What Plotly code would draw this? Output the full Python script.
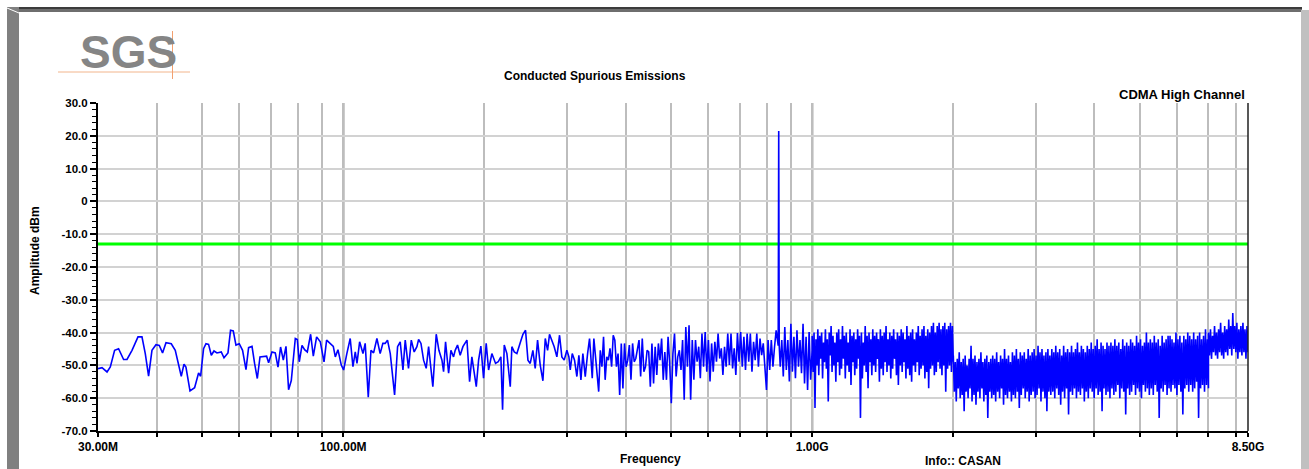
import numpy as np
import plotly.graph_objects as go

# ------------------------------------------------------------------ data
# low band, read point by point (MHz, dBm)
seg1_freq_mhz = [30.0, 30.6, 31.36, 31.87, 32.55, 33.19, 34.02, 34.59, 35.45, 36.51,
                 37.23, 37.84, 38.46, 39.10, 39.88, 40.53, 41.19, 41.89, 42.99, 43.84,
                 45.15, 45.76, 46.20, 47.13, 48.21, 49.16, 49.65, 50.38, 50.98, 51.63,
                 52.33, 53.02, 53.81, 54.95, 55.69, 56.79, 57.51, 58.29, 59.06, 60.03,
                 61.01, 62.04, 62.84, 63.91, 64.72, 65.59, 66.46, 67.76, 68.65, 69.33,
                 70.49, 71.64, 72.60, 73.53, 74.52, 75.51, 76.48, 77.50, 79.04, 79.82,
                 80.60, 81.69, 82.73, 83.84, 85.21, 86.35, 87.76, 89.37, 91.01, 92.17,
                 93.86, 95.25, 96.20, 97.46, 99.06]
seg1_amp = [-51.0, -50.7, -52.0, -50.5, -45.4, -44.9, -48.2, -48.2, -45.4, -41.3,
            -41.3, -46.4, -53.3, -45.4, -43.7, -43.9, -46.2, -43.1, -43.4, -45.4,
            -53.3, -49.6, -50.5, -57.8, -56.8, -52.3, -53.3, -44.9, -43.4, -43.6,
            -46.9, -45.6, -46.2, -45.9, -47.7, -46.2, -39.3, -39.5, -43.8, -43.4,
            -45.4, -51.3, -44.6, -44.2, -49.4, -54.0, -47.4, -47.2, -47.2, -49.2,
            -45.9, -46.2, -50.5, -44.4, -48.4, -44.2, -57.4, -54.6, -41.8, -42.1,
            -48.9, -43.9, -45.2, -45.9, -40.5, -47.2, -41.3, -42.8, -48.9, -42.3,
            -43.4, -44.2, -47.4, -45.2, -49.9]

seg2_freq_mhz = [100.2, 101.8, 103.5, 104.9, 106.1, 107.0, 108.4, 110.2, 111.4, 113.1,
                 114.6, 116.1, 118.0, 119.9, 121.5, 122.9, 124.3, 126.0, 128.7, 130.6,
                 132.3, 134.1, 135.6, 137.8, 139.7, 141.7, 143.6, 144.8, 146.5, 148.4,
                 150.3, 152.1, 155.3, 157.9, 160.0, 162.4, 163.7, 165.3, 167.8, 169.7,
                 171.9, 173.3, 175.3, 177.6, 180.0, 183.6, 186.0, 188.1, 192.2, 194.4,
                 196.6, 199.2, 201.8, 204.2, 207.5, 211.3, 214.1, 216.9, 218.7, 220.5,
                 223.4, 227.1, 228.9, 231.6, 234.6, 238.5, 241.7, 244.8, 247.7, 250.5,
                 253.8, 256.7, 259.7, 263.1, 266.6, 269.7, 272.8, 275.4, 278.6, 281.8,
                 285.5, 289.3, 292.6, 296.0, 299.9, 302.9, 304.9, 307.9, 311.4, 315.0,
                 318.1, 321.3, 324.4, 328.2, 332.0, 335.2]
seg2_amp = [-51.4, -46.4, -41.8, -50.4, -45.9, -49.4, -42.8, -46.4, -43.3, -59.7,
            -45.4, -46.2, -41.8, -46.4, -43.3, -43.3, -42.3, -46.4, -59.0, -44.3,
            -42.8, -51.4, -42.3, -50.9, -42.3, -45.9, -44.3, -42.1, -43.3, -48.4,
            -50.9, -44.3, -56.5, -40.5, -45.4, -48.4, -51.9, -42.8, -52.4, -45.4,
            -47.4, -45.4, -43.8, -46.9, -44.3, -42.3, -55.0, -47.4, -56.5, -48.4,
            -44.1, -53.9, -43.3, -51.4, -46.4, -49.4, -48.9, -47.4, -63.5, -43.8,
            -46.4, -56.5, -44.3, -45.9, -46.4, -43.1, -40.5, -39.3, -48.4, -49.4,
            -45.4, -50.9, -42.3, -49.9, -54.7, -41.8, -45.4, -40.5, -42.3, -44.3,
            -47.4, -40.8, -47.4, -48.4, -45.4, -47.4, -51.4, -46.4, -48.4, -53.4,
            -46.9, -54.4, -46.4, -53.4, -46.4, -41.8]

# dense sweeps: (start MHz, stop MHz) and amplitudes in sweep order
seg3a_span_mhz = (337.0, 838.0)
seg3a_amp = [-46.4, -53.9, -41.8, -47.4, -51.9, -58.0, -45.4, -50.4, -41.3, -54.4,
             -47.4, -48.4, -44.8, -50.4, -40.8, -42.3, -50.4, -46.4, -59.0, -43.3,
             -57.0, -43.3, -50.4, -48.4, -43.8, -54.4, -43.3, -48.9, -47.9, -45.4,
             -42.3, -53.4, -41.8, -51.9, -50.4, -45.4, -45.9, -56.5, -43.3, -55.5,
             -44.3, -52.9, -43.3, -48.4, -41.8, -54.4, -45.9, -54.4, -41.3, -49.4,
             -61.5, -46.4, -40.3, -53.4, -47.4, -45.4, -51.4, -42.3, -60.5, -38.3,
             -50.4, -37.8, -60.5, -42.3, -54.4, -42.3, -48.9, -44.3, -53.9, -40.3,
             -50.4, -39.8, -51.9, -42.3, -54.9, -43.3, -51.9, -42.8, -48.9, -40.3,
             -47.9, -44.8, -52.9, -44.3, -50.4, -40.3, -49.9, -40.3, -50.9, -44.8,
             -52.9, -40.1, -48.9, -39.8, -50.4, -41.3, -51.4, -40.3, -48.9, -40.3,
             -51.9, -42.8, -48.4, -40.3, -50.4, -41.8, -46.9, -43.3, -50.4, -57.5,
             -42.3, -51.4, -42.3, -50.4, -44.3, -39.3]

carrier_freq_mhz = [846.5, 848.6, 850.7]
carrier_amp = [-44.0, 21.5, -44.0]

seg3b_span_mhz = (855.0, 1000.0)
seg3b_amp = [-50.4, -42.3, -53.4, -38.3, -51.4, -42.3, -54.9, -37.3, -51.9, -41.3,
             -53.9, -39.3, -50.4, -42.3, -52.4, -37.3, -55.5, -41.3, -57.5, -39.8,
             -54.4, -45.4]

seg4_span_mhz = (1000.0, 2000.0)
seg4_amp = [-41, -52, -40, -63, -42, -50, -39, -53, -41, -48,
            -40, -54, -43, -49, -39, -51, -42, -61, -40, -47,
            -38, -52, -41, -50, -43, -55, -40, -49, -39, -53,
            -42, -51, -38, -48, -41, -54, -40, -50, -43, -52,
            -39, -56, -41, -49, -40, -53, -42, -51, -39, -48,
            -41, -66, -40, -54, -43, -50, -38, -52, -41, -57,
            -40, -49, -42, -53, -39, -50, -41, -52, -40, -48,
            -42, -55, -39, -51, -41, -53, -40, -49, -38, -52,
            -42, -50, -40, -54, -41, -51, -39, -48, -42, -53,
            -40, -56, -41, -50, -39, -52, -40, -49, -42, -54,
            -38, -51, -41, -53, -40, -55, -39, -50, -42, -52,
            -40, -49, -38, -53, -41, -51, -39, -50, -38, -54,
            -41, -52, -39, -57, -40, -51, -38, -50, -37, -53,
            -40, -52, -38, -49, -37, -51, -39, -53, -38, -50,
            -37, -58, -39, -51, -38, -50, -37, -52, -38, -49]

seg5_span_mhz = (2000.0, 7000.0)
seg5_amp = [-47, -58, -49, -61, -48, -57, -46, -60, -49, -59, -48, -64, -47, -58, -50, -60, -48, -57, -44, -61,
            -48, -59, -47, -62, -49, -58, -48, -60, -46, -57, -49, -61, -48, -59, -47, -66, -49, -58, -48, -60,
            -47, -59, -48, -61, -46, -58, -49, -60, -47, -57, -48, -62, -45, -59, -48, -60, -47, -58, -49, -61,
            -46, -59, -47, -60, -45, -58, -48, -63, -46, -59, -47, -57, -46, -60, -48, -58, -45, -61, -47, -59,
            -46, -58, -45, -60, -47, -59, -44, -57, -46, -61, -45, -58, -47, -60, -46, -64, -45, -58, -47, -59,
            -45, -58, -46, -60, -44, -57, -46, -59, -45, -62, -47, -58, -44, -60, -46, -57, -45, -65, -46, -58,
            -44, -59, -46, -57, -45, -60, -43, -58, -46, -59, -44, -57, -45, -61, -46, -58, -44, -60, -45, -57,
            -43, -58, -45, -60, -44, -57, -42, -59, -45, -58, -43, -64, -44, -57, -45, -59, -43, -58, -44, -60,
            -43, -57, -44, -59, -42, -58, -44, -56, -43, -60, -45, -57, -42, -58, -44, -65, -43, -57, -44, -59,
            -42, -58, -43, -56, -44, -59, -41, -57, -43, -58, -42, -60, -44, -56, -43, -58, -40, -57, -43, -59,
            -42, -57, -43, -59, -41, -56, -43, -58, -42, -66, -44, -57, -41, -58, -43, -56, -42, -59, -41, -57,
            -41, -58, -42, -56, -43, -57, -40, -59, -42, -56, -41, -58, -43, -65, -41, -57, -42, -56, -40, -58,
            -41, -56, -42, -58, -40, -57, -42, -55, -41, -66, -40, -57, -42, -56, -41, -58, -39, -56, -42, -57]

seg6_span_mhz = (7000.0, 8500.0)
seg6_amp = [-40, -47, -39, -48, -41, -46, -38, -47, -40, -48, -39, -46, -37, -47, -40, -48, -38, -46, -39, -47,
            -36, -45, -38, -47, -34, -45, -38, -46, -37, -48, -39, -46, -38, -47, -37, -46, -39, -48, -38, -46]

limit_dbm = -13.0

x_tick_vals_hz = [30e6, 40e6, 50e6, 60e6, 70e6, 80e6, 90e6, 100e6,
                  200e6, 300e6, 400e6, 500e6, 600e6, 700e6, 800e6, 900e6, 1e9,
                  2e9, 3e9, 4e9, 5e9, 6e9, 7e9, 8e9, 8.5e9]
x_tick_text = ["30.00M", "", "", "", "", "", "", "100.00M",
               "", "", "", "", "", "", "", "", "1.00G",
               "", "", "", "", "", "", "", "8.50G"]
decade_lines_hz = [100e6, 1e9]
y_tick_vals = [-70, -60, -50, -40, -30, -20, -10, 0, 10, 20, 30]
y_tick_text = ["-70.0", "-60.0", "-50.0", "-40.0", "-30.0", "-20.0", "-10.0", "0", "10.0", "20.0", "30.0"]
f_min_hz, f_max_hz = 30e6, 8.5e9

# ------------------------------------------------------------------ assemble trace


def sweep(span, amps):
    return list(np.geomspace(span[0], span[1], len(amps)))


freq_mhz = (seg1_freq_mhz + seg2_freq_mhz + sweep(seg3a_span_mhz, seg3a_amp) + carrier_freq_mhz
            + sweep(seg3b_span_mhz, seg3b_amp) + sweep(seg4_span_mhz, seg4_amp)
            + sweep(seg5_span_mhz, seg5_amp) + sweep(seg6_span_mhz, seg6_amp))
amp = (seg1_amp + seg2_amp + seg3a_amp + carrier_amp + seg3b_amp + seg4_amp + seg5_amp + seg6_amp)
freq_hz = [f * 1e6 for f in freq_mhz]

# ------------------------------------------------------------------ layout helpers
W, H = 1309, 469
L, R, T, B = 98, 1248, 103, 431


def PX(X):
    return (X - L) / (R - L)


def PY(Y):
    return (B - Y) / (B - T)


def fx(f):
    lo, hi = np.log10(f_min_hz), np.log10(f_max_hz)
    return (np.log10(f) - lo) / (hi - lo)


FONT = "Liberation Sans, Arial, sans-serif"

fig = go.Figure()
fig.add_trace(go.Scatter(x=[f_min_hz, f_max_hz], y=[limit_dbm, limit_dbm], mode="lines",
                         line=dict(color="#00ff00", width=3), hoverinfo="skip", showlegend=False))
fig.add_trace(go.Scatter(x=freq_hz, y=amp, mode="lines",
                         line=dict(color="#0000ff", width=1.6), showlegend=False))

shapes = []
# decade lines
for f in decade_lines_hz:
    shapes.append(dict(type="line", xref="paper", yref="paper", x0=fx(f), x1=fx(f), y0=0, y1=1,
                       line=dict(color="black", width=2), layer="between"))
# right border of plot
shapes.append(dict(type="line", xref="paper", yref="paper", x0=1, x1=1, y0=0, y1=1,
                   line=dict(color="#202020", width=1.5)))


def rect(x0, y0, x1, y1, color):
    shapes.append(dict(type="rect", xref="paper", yref="paper", x0=PX(x0), x1=PX(x1), y0=PY(y0), y1=PY(y1),
                       fillcolor=color, line=dict(width=0), layer="above"))


# window frame
rect(7, 7, 1302, 9, "#3c3c3c")
rect(7, 9, 1302, 12, "#6e6e6e")
rect(7, 7, 19, 469, "#808080")
rect(1301, 10, 1309, 469, "#c0c0c0")
shapes.append(dict(type="line", xref="paper", yref="paper", x0=PX(7), y0=PY(8), x1=PX(19), y1=PY(13),
                   line=dict(color="white", width=1)))
# logo lines
shapes.append(dict(type="line", xref="paper", yref="paper", x0=PX(58), y0=PY(72), x1=PX(190), y1=PY(72),
                   line=dict(color="#f2b58c", width=1)))
shapes.append(dict(type="line", xref="paper", yref="paper", x0=PX(172.5), y0=PY(31), x1=PX(172.5), y1=PY(79),
                   line=dict(color="#f2a070", width=1)))


def ann(text, X, Y, size, xanchor="center", color="black", angle=0, bold=True):
    return dict(text=text, xref="paper", yref="paper", x=PX(X), y=PY(Y), xanchor=xanchor, yanchor="middle",
                showarrow=False, textangle=angle,
                font=dict(family=FONT, size=size, color=color, weight="bold" if bold else "normal"))


annotations = [
    ann("SGS", 128, 52, 46, color="#858585"),
    ann("Conducted Spurious Emissions", 595, 76, 12),
    ann("CDMA High Channel", 1247, 94, 13, xanchor="right"),
    ann("Amplitude dBm", 35, 251, 12, angle=-90),
    ann("Frequency", 650, 459, 12),
    ann("Info:: CASAN", 963, 461, 12),
]

fig.update_layout(
    width=W, height=H, autosize=False,
    margin=dict(l=L, r=W - R, t=T, b=H - B, pad=0),
    paper_bgcolor="white", plot_bgcolor="white",
    showlegend=False, hovermode=False,
    shapes=shapes, annotations=annotations,
    xaxis=dict(type="log", range=[np.log10(f_min_hz), np.log10(f_max_hz)],
               tickvals=x_tick_vals_hz, ticktext=x_tick_text,
               showgrid=True, gridcolor="#bdbdbd", gridwidth=1.5,
               ticks="outside", ticklen=4, tickwidth=1.5, tickcolor="black",
               showline=True, linecolor="black", linewidth=2, zeroline=False,
               tickfont=dict(family=FONT, size=12, color="black", weight="bold")),
    yaxis=dict(range=[-70, 30], tickvals=y_tick_vals, ticktext=y_tick_text,
               showgrid=True, gridcolor="#d2d2d2", gridwidth=1.5,
               ticks="outside", ticklen=6, tickwidth=1.5, tickcolor="black",
               minor=dict(dtick=2, ticks="outside", ticklen=4, tickwidth=1, tickcolor="black", showgrid=False),
               showline=True, linecolor="black", linewidth=2, zeroline=False,
               tickfont=dict(family=FONT, size=11.5, color="black", weight="bold")),
)

fig.write_html("out.html", config={"displayModeBar": False},
               post_script="document.body.style.margin='0px';")
